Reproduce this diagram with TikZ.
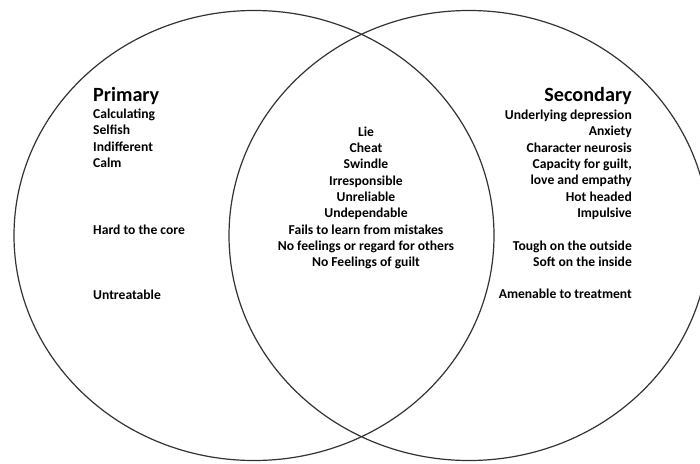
\documentclass[tikz,border=0pt]{standalone}
\usepackage{fontspec}
\setmainfont{Carlito}
\tikzset{
    ring/.style={
           draw=black!80, line width=1.2pt,
           },
    heading/.style={
           font=\bfseries\fontsize{20.2}{24}\selectfont,
           inner sep=0pt,
           },
    traits/.style={
           font=\bfseries\fontsize{13.6}{16.35}\selectfont,
           inner sep=0pt,
           },
}
\begin{document}
\begin{tikzpicture}[x=1pt,y=-1pt]
  \useasboundingbox (0,0) rectangle (700,463);
  \clip (0,0) rectangle (700,463);

  % the two sets
  \draw[ring] (254,235.5) ellipse [x radius=240pt, y radius=225pt];
  \draw[ring] (469,235.5) ellipse [x radius=240pt, y radius=225pt];

  % left set (base = last line)
  \node[heading, anchor=base west]                 (Primary)   at (93,101.7)  {Primary};
  \node[traits, align=left, anchor=base west]      (PrimList)  at (93,167.4)  {Calculating\\Selfish\\Indifferent\\Calm};
  \node[traits, anchor=base west]                  (Hard)      at (93,234)    {Hard to the core};
  \node[traits, anchor=base west]                  (Untreat)   at (93,299.3)  {Untreatable};

  % overlap
  \node[traits, align=center, anchor=base]         (Shared)    at (366,266.8)
       {Lie\\Cheat\\Swindle\\Irresponsible\\Unreliable\\Undependable\\Fails to learn from mistakes\\No feelings or regard for others\\No Feelings of guilt};

  % right set
  \node[heading, anchor=base east]                 (Secondary) at (632,101.7) {Secondary};
  \node[traits, align=right, anchor=base east]     (SecList)   at (632,217.4)
       {Underlying depression\\Anxiety\\Character neurosis\\Capacity for guilt,\\love and empathy\\Hot headed\\Impulsive};
  \node[traits, align=right, anchor=base east]     (Tough)     at (632,266.6) {Tough on the outside\\Soft on the inside};
  \node[traits, anchor=base east]                  (Amenable)  at (632,298.3) {Amenable to treatment};

\end{tikzpicture}
\end{document}
